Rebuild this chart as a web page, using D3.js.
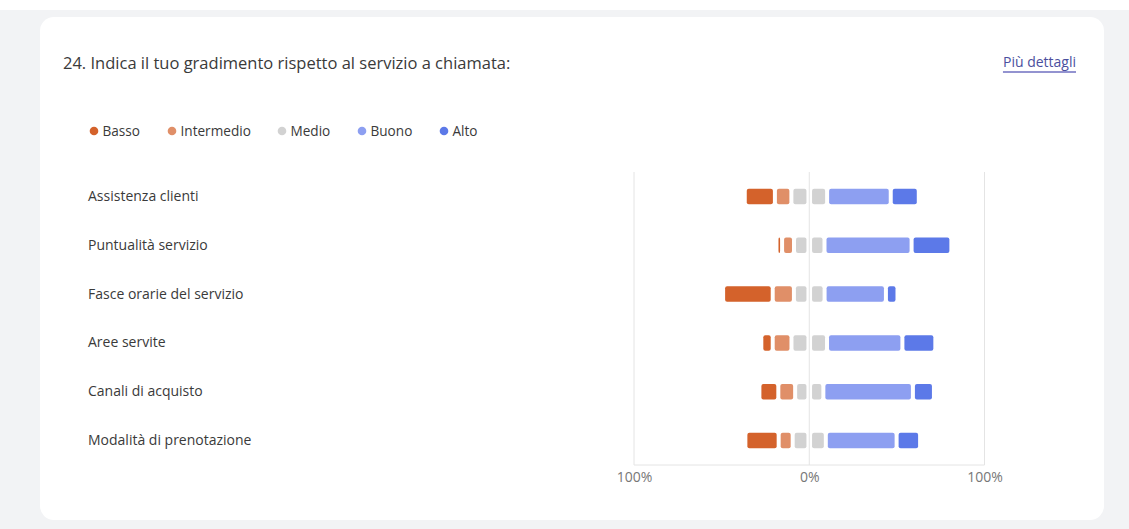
<!DOCTYPE html>
<html>
<head>
<meta charset="utf-8">
<script src="https://cdn.jsdelivr.net/npm/d3@7"></script>
<style>
  html, body { margin: 0; padding: 0; background: #f2f3f5; }
  body { width: 1129px; height: 529px; overflow: hidden; }
  svg { display: block; }
  text { font-family: "Open Sans", "Noto Sans", sans-serif; }
</style>
</head>
<body>
<svg id="chart" width="1129" height="529"></svg>
<script>
const title = "24. Indica il tuo gradimento rispetto al servizio a chiamata:";
const linkText = "Più dettagli";
const categories = [
  "Assistenza clienti",
  "Puntualità servizio",
  "Fasce orarie del servizio",
  "Aree servite",
  "Canali di acquisto",
  "Modalità di prenotazione"
];
const seriesNames = ["Basso", "Intermedio", "Medio", "Buono", "Alto"];
const seriesColors = ["#d4622b", "#e08f68", "#d2d2d2", "#8d9ff1", "#5c79e8"];
const basso      = [17.2,  3.2, 28.3,  6.5, 10.8, 19.0];
const intermedio = [ 9.4,  6.8, 12.1, 10.7,  9.6,  8.0];
const medio      = [20.4, 17.4, 17.5, 20.3, 16.1, 18.9];
const buono      = [36.3, 49.7, 35.0, 43.0, 51.1, 40.4];
const alto       = [16.0, 22.7,  6.6, 18.8, 12.0, 13.4];
const tickValues = [-100, 0, 100];
const tickLabels = ["100%", "0%", "100%"];

const svg = d3.select("#chart");

// page top strip and card
svg.append("rect").attr("x", 0).attr("y", 0).attr("width", 1129).attr("height", 10).attr("fill", "#ffffff");
svg.append("rect").attr("x", 40).attr("y", 17).attr("width", 1064).attr("height", 503)
  .attr("rx", 14).attr("fill", "#ffffff");

svg.append("text").attr("x", 63).attr("y", 68.5)
  .attr("font-size", 16.5).attr("fill", "#3a3a3a").text(title);

const link = svg.append("text").attr("x", 1076).attr("y", 66.5).attr("text-anchor", "end")
  .attr("font-size", 14).attr("fill", "#4b4f9e").text(linkText);
const lb = link.node().getBBox();
svg.append("line").attr("x1", lb.x).attr("x2", lb.x + lb.width).attr("y1", 72).attr("y2", 72)
  .attr("stroke", "#6f6fc0").attr("stroke-width", 1.3);

// legend
const legendX = [94, 172, 282, 362, 444];
const legend = svg.append("g");
seriesNames.forEach((s, i) => {
  legend.append("circle").attr("cx", legendX[i]).attr("cy", 131).attr("r", 4.3).attr("fill", seriesColors[i]);
  legend.append("text").attr("x", legendX[i] + 8.5).attr("y", 136)
    .attr("font-size", 13.6).attr("fill", "#3a3a3a").text(s);
});

// scales
const x = d3.scaleLinear().domain([-100, 100]).range([634, 984.5]);
const y = d3.scaleBand().domain(categories).range([172, 465]);

// grid
const grid = svg.append("g");
tickValues.forEach(v => {
  grid.append("line").attr("x1", x(v)).attr("x2", x(v)).attr("y1", 172).attr("y2", 465)
    .attr("stroke", "#e4e4e4").attr("stroke-width", 1);
});
grid.append("line").attr("x1", x(-100)).attr("x2", x(100)).attr("y1", 465).attr("y2", 465)
  .attr("stroke", "#e4e4e4").attr("stroke-width", 1);

const axis = d3.axisBottom(x).tickValues(tickValues).tickSize(0)
  .tickFormat((d, i) => tickLabels[i]);
const axG = svg.append("g").attr("transform", "translate(0,469)").call(axis);
axG.select(".domain").remove();
axG.selectAll("text").attr("font-size", 14).attr("fill", "#777")
  .style("font-family", "'Open Sans', 'Noto Sans', sans-serif");

// category labels
svg.append("g").selectAll("text").data(categories).join("text")
  .attr("x", 88).attr("y", d => y(d) + y.bandwidth() / 2 + 4.5)
  .attr("font-size", 14).attr("fill", "#3a3a3a").text(d => d);

// segments
const segs = [];
categories.forEach((c, i) => {
  const b = basso[i], it = intermedio[i], m = medio[i], bu = buono[i], a = alto[i];
  const half = m / 2;
  segs.push({c, k: 0, x0: -(b + it + half), x1: -(it + half)});
  segs.push({c, k: 1, x0: -(it + half), x1: -half});
  segs.push({c, k: 2, x0: -half, x1: 0, innerRight: true});
  segs.push({c, k: 2, x0: 0, x1: half, innerLeft: true});
  segs.push({c, k: 3, x0: half, x1: half + bu});
  segs.push({c, k: 4, x0: half + bu, x1: half + bu + a});
});
const barH = 15.5;
svg.append("g").selectAll("rect").data(segs).join("rect")
  .attr("x", d => x(d.x0) + (d.innerLeft ? 2.8 : 2))
  .attr("width", d => Math.max(0.8, x(d.x1) - x(d.x0) - 4 - (d.innerLeft || d.innerRight ? 0.8 : 0)))
  .attr("y", d => y(d.c) + y.bandwidth() / 2 - barH / 2)
  .attr("height", barH)
  .attr("rx", 2)
  .attr("fill", d => seriesColors[d.k]);
</script>
</body>
</html>
